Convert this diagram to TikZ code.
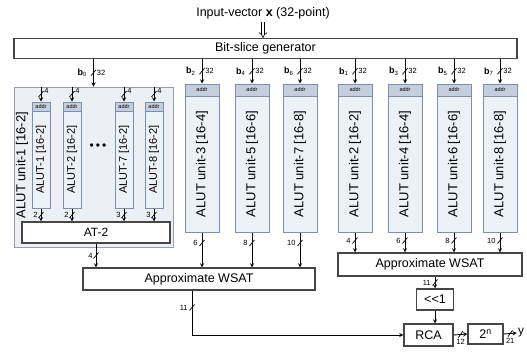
\documentclass[tikz,border=0pt]{standalone}
\usepackage{fontspec}
\setmainfont{Liberation Sans}
\usetikzlibrary{arrows, arrows.meta, positioning, decorations.markings}
\definecolor{unitcol}{RGB}{236, 241, 248}
\definecolor{unitline}{RGB}{125, 143, 175}
\definecolor{addrcol}{RGB}{197, 206, 221}
\definecolor{groupcol}{RGB}{236, 239, 243}
\definecolor{groupline}{RGB}{150, 158, 170}
\definecolor{boxline}{RGB}{70, 70, 70}
\newcommand{\fsz}[1]{\fontsize{#1}{#1}\selectfont}

\begin{document}
\begin{tikzpicture}[
    x=1pt, y=-1pt,
    box/.style = {rectangle, draw=boxline, line width=1.1pt, fill=white, inner sep=0pt, font=\fsz{12.5}},
    group/.style = {rectangle, draw=groupline, line width=1pt, fill=groupcol},
    unit/.style = {rectangle, draw=unitline, line width=1pt, fill=unitcol, minimum width=34pt, minimum height=148pt, inner sep=0pt},
    subunit/.style = {unit, minimum width=18pt, minimum height=106pt},
    addr/.style = {rectangle, draw=unitline, line width=0.8pt, fill=addrcol, minimum height=12pt, inner sep=0pt, font=\fsz{5.5}},
    unittext/.style = {rotate=90, font=\fsz{13}},
    subtext/.style = {rotate=90, font=\fsz{11}},
    arrow/.style = {line width=0.9pt, ->, >=stealth},
    busmark/.style = {postaction={decorate, decoration={markings, mark=at position #1 with {\draw[-, line width=0.7pt] (3pt,-2.5pt) -- (-3pt,2.5pt);}}}},
    busmark/.default = 0.5,
    hbusmark/.style = {postaction={decorate, decoration={markings, mark=at position #1 with {\draw[-, line width=0.7pt] (-2.5pt,-3pt) -- (2.5pt,3pt);}}}},
    hbusmark/.default = 0.5,
    bits/.style = {font=\fsz{7.5}, inner sep=1pt},
    busname/.style = {font=\fsz{9}, inner sep=1pt}
]
    \useasboundingbox (0,0) rectangle (527,354);

    % INPUT AND BIT-SLICE GENERATOR
    \node[font=\fsz{12.5}] (input) at (263,13) {Input-vector \textbf{x} (32-point)};
    \node[box, minimum width=503pt, minimum height=20pt] (bsg) at (265.5,48.5) {Bit-slice generator};
    \draw[double, double distance=2.4pt, line width=0.6pt, -{Implies}] (input) -- (input |- bsg.north);

    % ALUT UNIT-1 (ALUT-1 ... ALUT-8)
    \node[group, minimum width=159pt, minimum height=160pt] (grp1) at (93.5,167) {};
    \node[unittext] (grp1txt) at (22,165) {ALUT unit-1 [16-2]};

    \node[subunit] (alut1) at (41,155) {};
    \node[addr, minimum width=18pt, minimum height=9pt, anchor=north] (addr1) at (alut1.north) {addr};
    \node[subtext] at ([yshift=-4.5pt]alut1.center) {ALUT-1 [16-2]};

    \node[subunit] (alut2) at (72,155) {};
    \node[addr, minimum width=18pt, minimum height=9pt, anchor=north] (addr2) at (alut2.north) {addr};
    \node[subtext] at ([yshift=-4.5pt]alut2.center) {ALUT-2 [16-2]};

    \node[font=\fsz{12}] (dots) at (98,147) {\textbullet\,\textbullet\,\textbullet};

    \node[subunit] (alut7) at (124,155) {};
    \node[addr, minimum width=18pt, minimum height=9pt, anchor=north] (addr7) at (alut7.north) {addr};
    \node[subtext] at ([yshift=-4.5pt]alut7.center) {ALUT-7 [16-2]};

    \node[subunit] (alut8) at (154,155) {};
    \node[addr, minimum width=18pt, minimum height=9pt, anchor=north] (addr8) at (alut8.north) {addr};
    \node[subtext] at ([yshift=-4.5pt]alut8.center) {ALUT-8 [16-2]};

    \node[box, minimum width=148pt, minimum height=21pt, font=\fsz{12}] (at2) at (96,232.5) {AT-2};

    % ALUT UNITS 3, 5, 7
    \node[unit] (unit3) at (202,158) {};
    \node[addr, minimum width=34pt, anchor=north] (addr3) at (unit3.north) {addr};
    \node[unittext] at ([yshift=-6pt]unit3.center) {ALUT unit-3 [16-4]};

    \node[unit] (unit5) at (252,158) {};
    \node[addr, minimum width=34pt, anchor=north] (addr5) at (unit5.north) {addr};
    \node[unittext] at ([yshift=-6pt]unit5.center) {ALUT unit-5 [16-6]};

    \node[unit] (unit7) at (300,158) {};
    \node[addr, minimum width=34pt, anchor=north] (addr7b) at (unit7.north) {addr};
    \node[unittext] at ([yshift=-6pt]unit7.center) {ALUT unit-7 [16-8]};

    % ALUT UNITS 2, 4, 6, 8
    \node[unit] (unit2) at (355,158) {};
    \node[addr, minimum width=34pt, anchor=north] (addr2b) at (unit2.north) {addr};
    \node[unittext] at ([yshift=-6pt]unit2.center) {ALUT unit-2 [16-2]};

    \node[unit] (unit4) at (405,158) {};
    \node[addr, minimum width=34pt, anchor=north] (addr4) at (unit4.north) {addr};
    \node[unittext] at ([yshift=-6pt]unit4.center) {ALUT unit-4 [16-4]};

    \node[unit] (unit6) at (454,158) {};
    \node[addr, minimum width=34pt, anchor=north] (addr6) at (unit6.north) {addr};
    \node[unittext] at ([yshift=-6pt]unit6.center) {ALUT unit-6 [16-6]};

    \node[unit] (unit8) at (500,158) {};
    \node[addr, minimum width=34pt, anchor=north] (addr8b) at (unit8.north) {addr};
    \node[unittext] at ([yshift=-6pt]unit8.center) {ALUT unit-8 [16-8]};

    % ACCUMULATION
    \node[box, minimum width=232pt, minimum height=22pt] (wsatL) at (199,279) {Approximate WSAT};
    \node[box, minimum width=184pt, minimum height=23pt] (wsatR) at (430,264.5) {Approximate WSAT};
    \node[box, minimum width=37pt, minimum height=21pt] (shl) at (435,299.5) {<\kern0pt<1};
    \node[box, minimum width=49pt, minimum height=22pt] (rca) at (428.5,335) {RCA};
    \node[box, minimum width=35pt, minimum height=20pt] (pow) at (485.5,334) {2\textsuperscript{n}};
    \node[font=\fsz{12}, inner sep=1pt] (yout) at (521,333) {y};

    % BIT-SLICE BUSES
    \draw[arrow, busmark] (bsg.south -| grp1.north) -- (grp1.north) node[midway, left=5pt, busname] {\textbf{b}\textsubscript{0}} node[midway, right=2pt, bits] {32};
    \draw[arrow, busmark] (bsg.south -| unit3.north) -- (unit3.north) node[midway, left=5pt, busname] {\textbf{b}\textsubscript{2}} node[midway, right=2pt, bits] {32};
    \draw[arrow, busmark] (bsg.south -| unit5.north) -- (unit5.north) node[midway, left=5pt, busname] {\textbf{b}\textsubscript{4}} node[midway, right=2pt, bits] {32};
    \draw[arrow, busmark] (bsg.south -| unit7.north) -- (unit7.north) node[midway, left=5pt, busname] {\textbf{b}\textsubscript{6}} node[midway, right=2pt, bits] {32};
    \draw[arrow, busmark] (bsg.south -| unit2.north) -- (unit2.north) node[midway, left=5pt, busname] {\textbf{b}\textsubscript{1}} node[midway, right=2pt, bits] {32};
    \draw[arrow, busmark] (bsg.south -| unit4.north) -- (unit4.north) node[midway, left=5pt, busname] {\textbf{b}\textsubscript{3}} node[midway, right=2pt, bits] {32};
    \draw[arrow, busmark] (bsg.south -| unit6.north) -- (unit6.north) node[midway, left=5pt, busname] {\textbf{b}\textsubscript{5}} node[midway, right=2pt, bits] {32};
    \draw[arrow, busmark] (bsg.south -| unit8.north) -- (unit8.north) node[midway, left=5pt, busname] {\textbf{b}\textsubscript{7}} node[midway, right=2pt, bits] {32};

    % INSIDE ALUT UNIT-1
    \draw[arrow, busmark] (grp1.north -| alut1.north) -- (alut1.north) node[pos=0.3, right=2pt, bits] {4};
    \draw[arrow, busmark] (grp1.north -| alut2.north) -- (alut2.north) node[pos=0.3, right=2pt, bits] {4};
    \draw[arrow, busmark] (grp1.north -| alut7.north) -- (alut7.north) node[pos=0.3, right=2pt, bits] {4};
    \draw[arrow, busmark] (grp1.north -| alut8.north) -- (alut8.north) node[pos=0.3, right=2pt, bits] {4};
    \draw[arrow, busmark] (alut1.south) -- (alut1.south |- at2.north) node[midway, left=2pt, bits] {2};
    \draw[arrow, busmark] (alut2.south) -- (alut2.south |- at2.north) node[midway, left=2pt, bits] {2};
    \draw[arrow, busmark] (alut7.south) -- (alut7.south |- at2.north) node[midway, left=2pt, bits] {3};
    \draw[arrow, busmark] (alut8.south) -- (alut8.south |- at2.north) node[midway, left=2pt, bits] {3};

    % TO THE WSAT BLOCKS
    \draw[arrow, busmark] (at2.south) -- (at2.south |- wsatL.north) node[midway, left=2pt, bits] {4};
    \draw[arrow, busmark=0.3] (unit3.south) -- (unit3.south |- wsatL.north) node[pos=0.3, left=3pt, bits] {6};
    \draw[arrow, busmark=0.3] (unit5.south) -- (unit5.south |- wsatL.north) node[pos=0.3, left=3pt, bits] {8};
    \draw[arrow, busmark=0.3] (unit7.south) -- (unit7.south |- wsatL.north) node[pos=0.3, left=3pt, bits] {10};
    \draw[arrow, busmark=0.4] (unit2.south) -- (unit2.south |- wsatR.north) node[pos=0.4, left=3pt, bits] {4};
    \draw[arrow, busmark=0.4] (unit4.south) -- (unit4.south |- wsatR.north) node[pos=0.4, left=3pt, bits] {6};
    \draw[arrow, busmark=0.4] (unit6.south) -- (unit6.south |- wsatR.north) node[pos=0.4, left=3pt, bits] {8};
    \draw[arrow, busmark=0.4] (unit8.south) -- (unit8.south |- wsatR.north) node[pos=0.4, left=3pt, bits] {10};

    % FINAL ADDITION
    \coordinate (bend) at ([xshift=-7pt]wsatL.south |- rca.west);
    \draw[line width=0.9pt, busmark=0.38] ([xshift=-7pt]wsatL.south) -- (bend) node[pos=0.38, left=3pt, bits] {11};
    \draw[arrow] (bend) -- (rca.west);
    \draw[arrow, busmark] (wsatR.south -| shl.north) -- (shl.north) node[midway, left=3pt, bits] {11};
    \draw[arrow] (shl.south) -- (shl.south |- rca.north);
    \draw[arrow, hbusmark] (rca.east) -- (pow.west) node[midway, below=3pt, bits] {12};
    \draw[arrow, hbusmark] (pow.east) -- (yout.west) node[midway, below=3pt, bits] {21};

\end{tikzpicture}
\end{document}
